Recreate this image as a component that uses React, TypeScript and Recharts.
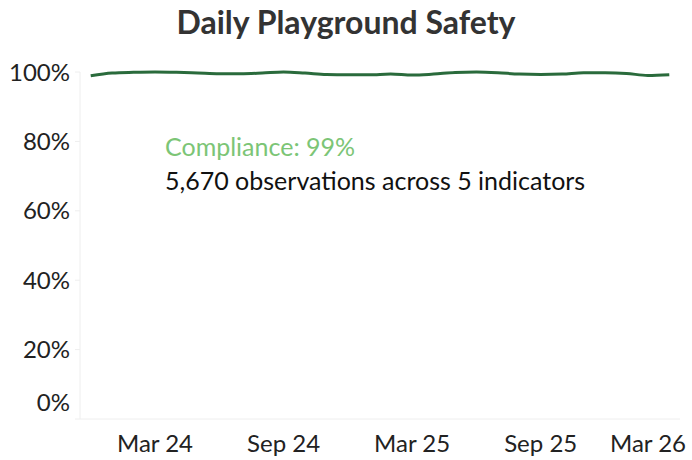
import { LineChart, Line, XAxis, YAxis } from "recharts";

// monthly points, Dec 23 .. Mar 26
const months = [
  "Dec 23", "Jan 24", "Feb 24", "Mar 24", "Apr 24", "May 24", "Jun 24",
  "Jul 24", "Aug 24", "Sep 24", "Oct 24", "Nov 24", "Dec 24", "Jan 25",
  "Feb 25", "Mar 25", "Apr 25", "May 25", "Jun 25", "Jul 25", "Aug 25",
  "Sep 25", "Oct 25", "Nov 25", "Dec 25", "Jan 26", "Feb 26", "Mar 26",
];
const compliance = [
  98.9, 99.7, 99.9, 100, 99.9, 99.7, 99.5, 99.5, 99.7, 100, 99.7, 99.3,
  99.2, 99.2, 99.4, 99.1, 99.4, 99.85, 100, 99.8, 99.4, 99.3, 99.4, 99.8,
  99.8, 99.6, 99.0, 99.2,
];
const xTickLabels = ["Mar 24", "Sep 24", "Mar 25", "Sep 25", "Mar 26"];
const yTicks = [0, 20, 40, 60, 80, 100];

const chartData = months.map((m, i) => ({ idx: i, month: m, value: compliance[i] }));
const xTicks = xTickLabels.map((l) => months.indexOf(l));

const FONT = "Lato, 'Open Sans', sans-serif";

function YTick({ x, y, payload }: any) {
  // 0% sits a bit above the baseline in the original
  const dy = payload.value === 0 ? -17 : 0;
  return (
    <text x={x - 3} y={y + dy} dy="0.36em" textAnchor="end" fontSize={24} fill="#222" fontFamily={FONT}>
      {payload.value}%
    </text>
  );
}

function XTick({ x, y, payload }: any) {
  const label = months[payload.value];
  const cx = Math.min(x, 648);
  return (
    <text x={cx} y={y + 8} dy="0.71em" textAnchor="middle" fontSize={24} fill="#222" fontFamily={FONT}>
      {label}
    </text>
  );
}

export default function App() {
  return (
    <div style={{ position: "absolute", left: 0, top: 0, width: 692, height: 460, background: "#fff" }}>
      <LineChart
        width={692}
        height={460}
        data={chartData}
        margin={{ top: 72, right: 12, bottom: 0, left: 0 }}
      >
        <XAxis
          dataKey="idx"
          type="number"
          domain={[-0.5, 27.5]}
          ticks={xTicks}
          tick={<XTick />}
          tickLine={false}
          axisLine={{ stroke: "#eeeeee" }}
          height={41}
          interval={0}
        />
        <YAxis
          type="number"
          domain={[0, 100]}
          ticks={yTicks}
          tick={<YTick />}
          tickLine={{ stroke: "#eeeeee" }}
          tickSize={5}
          axisLine={{ stroke: "#eeeeee" }}
          width={80}
        />
        <Line
          type="monotone"
          dataKey="value"
          stroke="#2a6b3c"
          strokeWidth={3}
          dot={false}
          isAnimationActive={false}
        />
      </LineChart>
      <div
        style={{
          position: "absolute", left: 0, top: 2, width: 692, textAlign: "center",
          fontFamily: FONT, fontWeight: 700, fontSize: 32, lineHeight: "40px", color: "#333",
        }}
      >
        Daily Playground Safety
      </div>
      <div style={{ position: "absolute", left: 165, top: 129, fontFamily: FONT, fontSize: 25, lineHeight: "34px" }}>
        <div style={{ color: "#7cc576" }}>Compliance: 99%</div>
        <div style={{ color: "#111" }}>5,670 observations across 5 indicators</div>
      </div>
    </div>
  );
}
